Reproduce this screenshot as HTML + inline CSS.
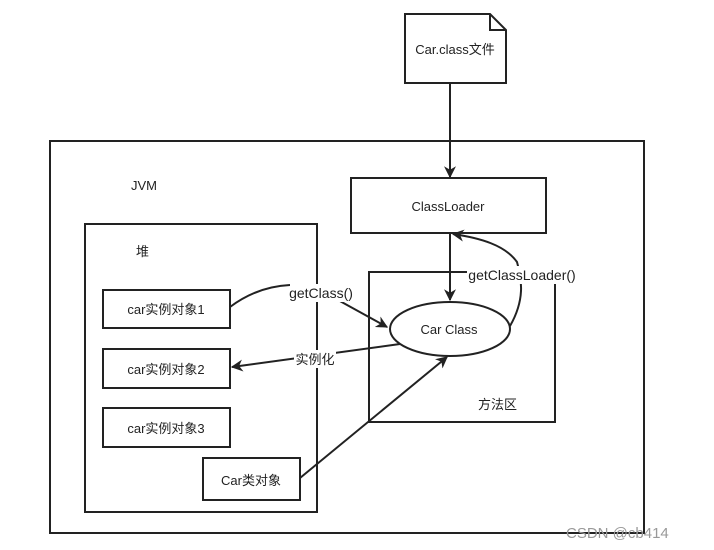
<!DOCTYPE html>
<html><head><meta charset="utf-8"><style>
html,body{margin:0;padding:0;background:#fff;width:714px;height:550px;overflow:hidden}
text{font-family:"Liberation Sans","Noto Sans CJK SC",sans-serif;fill:#222}
</style></head><body>
<svg width="714" height="550" viewBox="0 0 714 550" xmlns="http://www.w3.org/2000/svg">
<defs><marker id="a" viewBox="0 0 10 10" refX="9" refY="5" markerWidth="12" markerHeight="12" orient="auto-start-reverse" markerUnits="userSpaceOnUse"><path d="M0,0 L10,5 L0,10 L3,5 z" fill="#222"/></marker></defs>
<g fill="none" stroke="#222" stroke-width="2">
<path d="M405,14 H490 L506,30 V83 H405 Z" fill="#fff"/>
<path d="M490,14 V30 H506"/>
<rect x="50" y="141" width="594" height="392"/>
<rect x="85" y="224" width="232" height="288"/>
<rect x="369" y="272" width="186" height="150"/>
<rect x="351" y="178" width="195" height="55" fill="#fff"/>
<rect x="103" y="290" width="127" height="38"/>
<rect x="103" y="349" width="127" height="39"/>
<rect x="103" y="408" width="127" height="39"/>
<rect x="203" y="458" width="97" height="42" fill="#fff"/>
<line x1="450" y1="83" x2="450" y2="177" marker-end="url(#a)"/>
<line x1="450" y1="233" x2="450" y2="300" marker-end="url(#a)"/>
<path d="M230,307 C250,292 270,286 290,285" />
<line x1="338" y1="300" x2="387" y2="327" marker-end="url(#a)"/>
<line x1="400" y1="344" x2="232" y2="367" marker-end="url(#a)"/>
<line x1="300" y1="478" x2="447" y2="357" marker-end="url(#a)"/>
<path d="M510,326 C525,300 522,280 517,262 C505,245 480,238 453,234" marker-end="url(#a)"/>
</g>
<rect x="290" y="284" width="62" height="18" fill="#fff"/>
<rect x="294" y="350" width="42" height="18" fill="#fff"/>
<rect x="467" y="266" width="110" height="18" fill="#fff"/>
<ellipse cx="450" cy="329" rx="60" ry="27" fill="#fff" stroke="#222" stroke-width="2"/>
<g font-size="13">
<text x="455" y="54" text-anchor="middle">Car.class文件</text>
<text x="448" y="211" text-anchor="middle">ClassLoader</text>
<text x="449" y="334" text-anchor="middle">Car Class</text>
<text x="131" y="190">JVM</text>
<text x="136" y="256">堆</text>
<text x="478" y="409">方法区</text>
<text x="166" y="314" text-anchor="middle">car实例对象1</text>
<text x="166" y="374" text-anchor="middle">car实例对象2</text>
<text x="166" y="433" text-anchor="middle">car实例对象3</text>
<text x="251" y="485" text-anchor="middle">Car类对象</text>
<text x="321" y="298" text-anchor="middle" font-size="14">getClass()</text>
<text x="315" y="364" text-anchor="middle">实例化</text>
<text x="522" y="280" text-anchor="middle" font-size="14">getClassLoader()</text>
<text x="566" y="538" font-size="15" style="fill:#999">CSDN @cb414</text>
</g>
</svg>
</body></html>
